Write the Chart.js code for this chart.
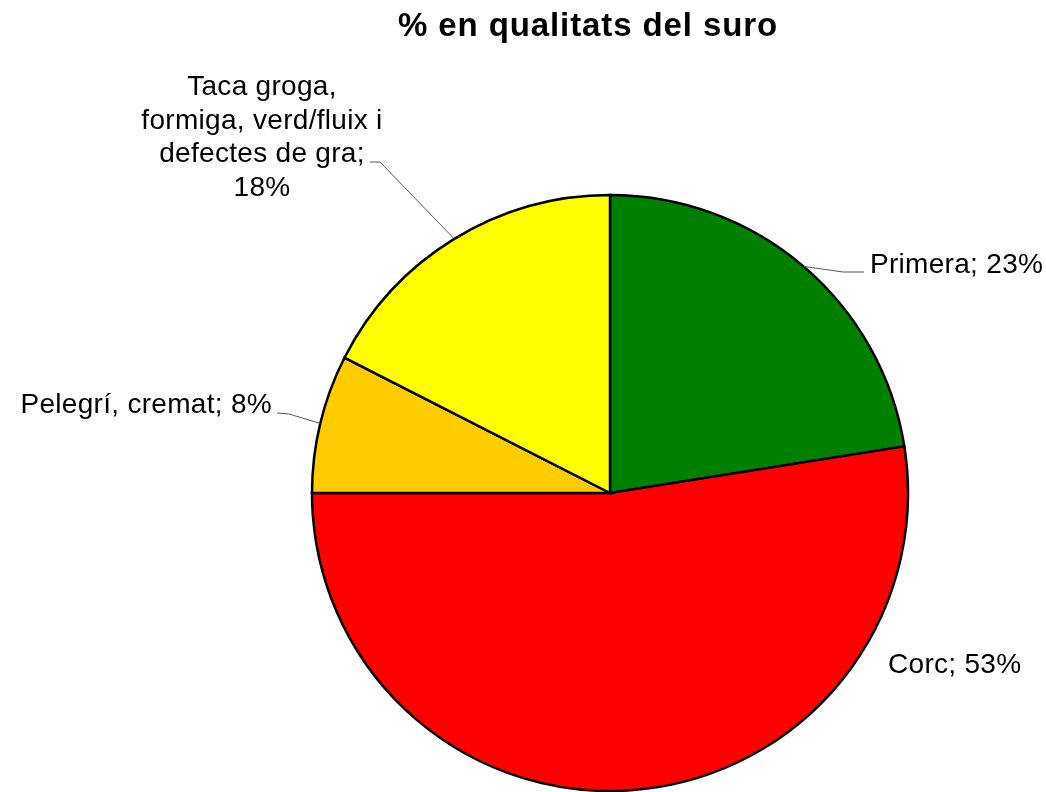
<!DOCTYPE html>
<html>
<head>
<meta charset="utf-8">
<script src="https://cdn.jsdelivr.net/npm/chart.js@4"></script>
<style>
  html, body { margin: 0; padding: 0; background: #fff; }
  #wrap { width: 1046px; height: 792px; }
</style>
</head>
<body>
<div id="wrap"><canvas id="c" width="1046" height="792"></canvas></div>
<script>
const titleText = '% en qualitats del suro';
const categories = ['Primera', 'Corc', 'Pelegrí, cremat', 'Taca groga, formiga, verd/fluix i defectes de gra'];
const values = [22.5, 52.5, 7.5, 17.5];
const colors = ['#008000', '#FF0000', '#FFCC00', '#FFFF00'];

const FONT = '"Liberation Sans", Arial, sans-serif';
const LABEL_SIZE = 28;

// label layout: anchor, alignment, and leader-line bend points
const labelLayout = [
  { x: 870, y: 273, align: 'left', maxW: 400, line: [[843, 272], [864, 272]] },
  { x: 888, y: 673, align: 'left', maxW: 400, line: null },
  { x: 272, y: 413, align: 'right', maxW: 400, line: [[289, 414], [277, 413]] },
  { x: 262, y: 95, align: 'center', maxW: 255, lh: 33.5, line: [[380, 162], [370, 162]] }
];

function wrap(ctx, text, maxW) {
  const words = text.split(' ');
  const lines = [];
  let cur = '';
  for (const w of words) {
    const t = cur ? cur + ' ' + w : w;
    if (cur && ctx.measureText(t).width > maxW) { lines.push(cur); cur = w; }
    else cur = t;
  }
  if (cur) lines.push(cur);
  return lines;
}

const labelPlugin = {
  id: 'labelPlugin',
  afterDraw(chart) {
    const ctx = chart.ctx;
    const meta = chart.getDatasetMeta(0);
    const total = values.reduce((a, b) => a + b, 0);
    ctx.save();
    // title
    ctx.fillStyle = '#000';
    ctx.font = 'bold 33px ' + FONT;
    ctx.letterSpacing = '0.9px';
    ctx.textAlign = 'center';
    ctx.textBaseline = 'alphabetic';
    ctx.fillText(titleText, 588, 36);

    ctx.font = LABEL_SIZE + 'px ' + FONT;
    ctx.letterSpacing = '0.3px';
    meta.data.forEach((arc, i) => {
      const L = labelLayout[i];
      const pct = Math.round(values[i] / total * 100);
      const text = categories[i] + '; ' + pct + '%';
      // leader line from middle of arc outer edge
      if (L.line) {
        const mid = (arc.startAngle + arc.endAngle) / 2;
        const px = arc.x + Math.cos(mid) * arc.outerRadius;
        const py = arc.y + Math.sin(mid) * arc.outerRadius;
        ctx.strokeStyle = '#555';
        ctx.lineWidth = 1;
        ctx.beginPath();
        ctx.moveTo(px, py);
        L.line.forEach(p => ctx.lineTo(p[0], p[1]));
        ctx.stroke();
      }
      ctx.fillStyle = '#000';
      ctx.textAlign = L.align;
      const lines = wrap(ctx, text, L.maxW);
      lines.forEach((ln, k) => ctx.fillText(ln, L.x, L.y + k * (L.lh || 33.5)));
    });
    ctx.restore();
  }
};

new Chart(document.getElementById('c'), {
  type: 'pie',
  data: {
    labels: categories,
    datasets: [{
      data: values,
      backgroundColor: colors,
      borderColor: '#000',
      borderWidth: 2.5,
      borderJoinStyle: 'miter',
      borderAlign: 'center'
    }]
  },
  options: {
    responsive: false,
    animation: false,
    events: [],
    radius: 298,
    layout: { padding: { left: 174, right: 0, top: 194, bottom: 0 } },
    plugins: {
      legend: { display: false },
      title: { display: false },
      tooltip: { enabled: false }
    }
  },
  plugins: [labelPlugin]
});
</script>
</body>
</html>
